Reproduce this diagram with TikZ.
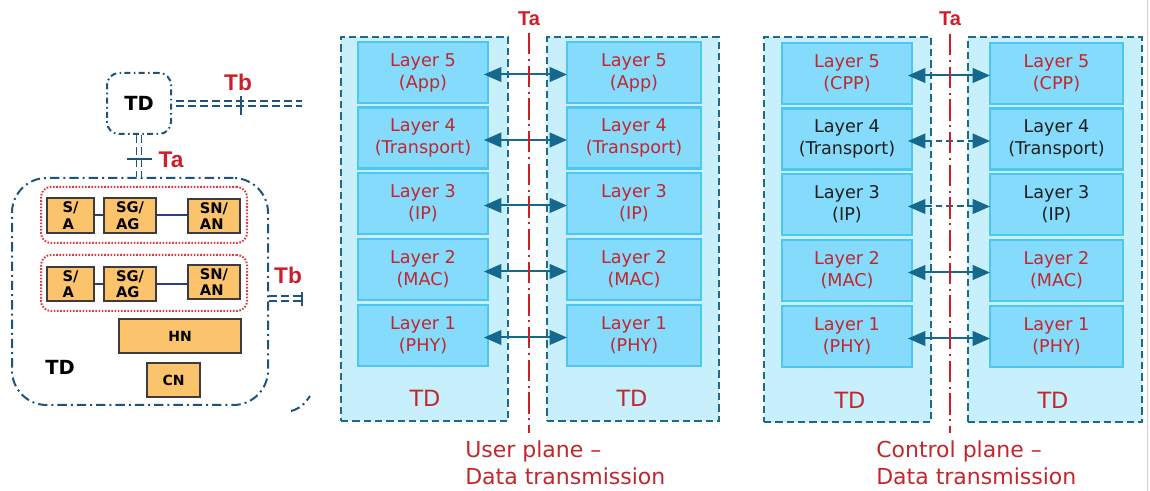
\documentclass[tikz,border=0pt]{standalone}
\usepackage{fontspec}
\setmainfont{DejaVu Sans}
\newfontfamily\tagfont{Liberation Sans}
\usetikzlibrary{arrows.meta,fit,calc}

\definecolor{tdfill}{HTML}{C7EFFC}
\definecolor{tdedge}{HTML}{1C6B8D}
\definecolor{layfill}{HTML}{84DBFB}
\definecolor{layedge}{HTML}{4CC6F2}
\definecolor{txtred}{HTML}{C1272D}
\definecolor{txtdark}{HTML}{1E1E1E}
\definecolor{linkc}{HTML}{16688D}
\definecolor{refred}{HTML}{CC1F2A}
\definecolor{navy}{HTML}{1F5379}
\definecolor{dotred}{HTML}{E03A3E}
\definecolor{nodeorange}{HTML}{FBC46C}
\definecolor{nodeedge}{HTML}{3C3C3C}
\definecolor{linknavy}{HTML}{2C3D87}

\begin{document}
\begin{tikzpicture}[x=0.75pt,y=-0.75pt,
  sz/.style 2 args={minimum width={#1*0.75pt}, minimum height={#2*0.75pt}},
  tdbox/.style={fill=tdfill, draw=tdedge, line width=1.5pt,
    dash pattern=on 5.5pt off 3pt, inner sep=0pt},
  layerbox/.style={fill=layfill, draw=layedge, line width=2pt, inner sep=0pt,
    outer sep=0pt, align=center, font=\fontsize{13.2}{16.5}\selectfont, text=txtred},
  duplex/.style={linkc, line width=1.5pt,
    {Triangle[length=13pt,width=11pt]}-{Triangle[length=13pt,width=11pt]}},
  dduplex/.style={duplex, dash pattern=on 5pt off 3pt},
  refline/.style={refred, line width=1.5pt,
    dash pattern=on 16pt off 3.5pt on 1.5pt off 3.5pt},
  reftag/.style={text=refred, font=\tagfont\bfseries\fontsize{15}{17}\selectfont, inner sep=0pt},
  tdlabel/.style={text=txtred, font=\fontsize{16.8}{19}\selectfont, inner sep=0pt},
  planelabel/.style={text=txtred, align=left, inner sep=0pt,
    font=\fontsize{16.5}{20.25}\selectfont},
  tdarea/.style={draw=navy, line width=1.5pt,
    dash pattern=on 7pt off 3pt on 1.5pt off 3pt, inner sep=0pt},
  smalltdarea/.style={tdarea, dash pattern=on 4.5pt off 2.5pt on 1.2pt off 2.5pt},
  redgroup/.style={draw=dotred, line width=1.5pt, dash pattern=on 1.2pt off 1.2pt,
    rounded corners=7.5pt, inner sep=0pt},
  unitbox/.style={fill=nodeorange, draw=nodeedge, line width=1.2pt, inner sep=0pt,
    align=left, font=\bfseries\fontsize{11}{12.5}\selectfont},
  bigunitbox/.style={unitbox, font=\bfseries\fontsize{10.5}{12}\selectfont},
  unitlink/.style={linknavy, line width=1.5pt},
  iface/.style={draw=navy, line width=1.1pt, double=white, double distance=2.65pt,
    dash pattern=on 6pt off 3pt},
  ifacetick/.style={draw=navy, line width=1.1pt},
  lefttag/.style={text=refred, font=\tagfont\bfseries\fontsize{17}{19}\selectfont, inner sep=0pt},
  tdname/.style={font=\bfseries\fontsize{14.6}{17}\selectfont, inner sep=0pt}
]
\useasboundingbox (0,0) rectangle (1150,491);

% ---------- left: terminal domains and interfaces ----------
\node[smalltdarea, rounded corners=9pt, sz={64}{61}] (smalltd) at (139,103.5) {\bfseries\fontsize{14.6}{17}\selectfont TD};
\node[tdarea, rounded corners=26pt, sz={256}{227}] (bigtd) at (140,291.5) {};
\node[tdname] (bigtdname) at (60,367) {TD};

\node[redgroup, sz={206}{56}] (grp1) at (144,215) {};
\node[redgroup, sz={206}{56}] (grp2) at (144,283) {};

\node[unitbox, sz={47}{35}] (sa1) at (70.5,215.5) {S/\\A};
\node[unitbox, sz={52}{35}] (sg1) at (130,215.5) {SG/\\AG};
\node[unitbox, sz={52}{34}] (sn1) at (214,216) {SN/\\AN};
\node[unitbox, sz={47}{34}] (sa2) at (70.5,284) {S/\\A};
\node[unitbox, sz={52}{34}] (sg2) at (130,284) {SG/\\AG};
\node[unitbox, sz={52}{34}] (sn2) at (214,282) {SN/\\AN};
\node[bigunitbox, sz={122}{34}] (hn) at (180,336) {HN};
\node[bigunitbox, sz={53}{34}] (cn) at (173.5,380) {CN};

\draw[unitlink] (sa1.east) -- (sg1.west);
\draw[unitlink] (sg1.east) -- (sg1.east -| sn1.west);
\draw[unitlink] (sa2.east) -- (sg2.west);
\draw[unitlink] (sg2.east) -- (sg2.east -| sn2.west);

% Tb towards the neighbouring domain
\coordinate (tbend) at (302,103.5);
\draw[iface] ([xshift=3pt]smalltd.east) -- (smalltd.east -| tbend);
\draw[ifacetick] (241,96) -- (241,115);
\node[lefttag] (tb1) at (238,82) {Tb};

% Ta between the two domains
\draw[iface] (smalltd.south) -- (smalltd.south |- bigtd.north);
\draw[ifacetick] (127,159) -- (152,159);
\node[lefttag] (ta1) at (171,160) {Ta};

% second Tb leaving the large domain
\coordinate (tb2end) at (304,298.5);
\draw[iface] (bigtd.east |- tb2end) -- (tb2end);
\draw[ifacetick] (302,292) -- (302,306);
\node[lefttag] (tb2) at (288,275) {Tb};

% corner of a further domain
\draw[tdarea] (291,411) .. controls (299,409) and (305,404) .. (310,396);

% ---------- user plane ----------
\node[tdbox, sz={167}{384}] (uTDL) at (424.5,229) {};
\node[tdbox, sz={172}{384}] (uTDR) at (633,229) {};
\foreach \n/\t/\sub in {5/42/(App),4/107.5/(Transport),3/173/(IP),2/239/(MAC),1/305/(PHY)} {
  \node[layerbox, sz={130}{61}] (uL\n) at (423,{\t+30.5}) {Layer \n\\\sub};
  \node[layerbox, sz={134}{61}] (uR\n) at (634,{\t+30.5}) {Layer \n\\\sub};
}
\node[tdlabel] at (425,398) {TD};
\node[tdlabel] at (632,398) {TD};

\foreach \n in {5,4,3,2,1}
  \draw[duplex] ($(uL\n.east)+(-4,2)$) -- ($(uR\n.west)+(0,2)$);

\node[reftag] (uTa) at (529,19) {Ta};
\coordinate (uTaTop) at (529,33);
\coordinate (uTaBot) at (529,433);
\draw[refline] (uTaTop) -- (uTaBot);

\node[planelabel, anchor=north west] at (465,441) {User plane –\\Data transmission};

% ---------- control plane ----------
\node[tdbox, sz={167}{385}] (cTDL) at (847.5,229.5) {};
\node[tdbox, sz={174}{385}] (cTDR) at (1055,229.5) {};
\foreach \n/\t/\sub/\col in {5/43/(CPP)/txtred,4/108.5/(Transport)/txtdark,3/174/(IP)/txtdark,2/240/(MAC)/txtred,1/306/(PHY)/txtred} {
  \node[layerbox, text=\col, sz={130}{61}] (cL\n) at (847,{\t+30.5}) {Layer \n\\\sub};
  \node[layerbox, text=\col, sz={133}{61}] (cR\n) at (1056.5,{\t+30.5}) {Layer \n\\\sub};
}
\node[tdlabel] at (850,400) {TD};
\node[tdlabel] at (1053,400) {TD};

\foreach \n/\sty in {5/duplex,4/dduplex,3/dduplex,2/duplex,1/duplex}
  \draw[\sty] ($(cL\n.east)+(-4,2)$) -- ($(cR\n.west)+(0,2)$);

\node[reftag] (cTa) at (950,19) {Ta};
\coordinate (cTaTop) at (950,34);
\coordinate (cTaBot) at (950,433);
\draw[refline] (cTaTop) -- (cTaBot);

\node[planelabel, anchor=north west] at (876,441) {Control plane –\\Data transmission};

% page edge
\draw[black!18, line width=0.8pt] (1147.5,0) -- (1147.5,491);
\end{tikzpicture}
\end{document}
